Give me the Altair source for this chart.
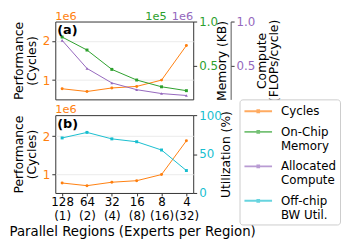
import altair as alt
import pandas as pd

# ---- data ----
regions = ["128", "64", "32", "16", "8", "4"]
experts = ["(1)", "(2)", "(4)", "(8)", "(16)", "(32)"]
cycles = [0.78, 0.71, 0.80, 0.84, 1.00, 1.88]          # x1e6 cycles
memory = [0.824, 0.676, 0.456, 0.335, 0.258, 0.214]    # x1e5 KB
compute = [0.786, 0.467, 0.302, 0.225, 0.181, 0.159]   # x1e6 FLOPs/cycle
util = [70.7, 77.8, 69.5, 65.8, 55.2, 28.8]            # %

series = ["Cycles", "On-Chip|Memory", "Allocated|Compute", "Off-chip|BW Util."]
colors = ["#ff7f0e", "#2ca02c", "#9467bd", "#17becf"]
offset_labels = ["1e6", "1e5", "1e6"]
panel_labels = ["(a)", "(b)"]

x_ticks = [f"{r}|{e}" for r, e in zip(regions, experts)]

W, H = 140, 79
FONT = "DejaVu Sans"


def frame(values, name):
    return pd.DataFrame({"x": x_ticks, "v": values, "s": name})


color_scale = alt.Scale(domain=series, range=colors)

legend = alt.Legend(
    title=None, orient="none", legendX=187, legendY=-16,
    labelExpr="split(datum.label, '|')", labelFontSize=12, labelFont=FONT,
    labelLimit=200, labelOffset=22,
    symbolType="M-1,0L3,0M0.88,-0.14L1.12,-0.14L1.12,0.14L0.88,0.14Z",
    symbolSize=196, symbolStrokeWidth=2, symbolOpacity=0.65,
    strokeColor="#cccccc", fillColor="white", cornerRadius=3, padding=4,
    rowPadding=7,
)


def xenc(show_axis):
    if show_axis:
        ax = alt.Axis(
            title="Parallel Regions (Experts per Region)", labelAngle=0,
            labelExpr="split(datum.label, '|')", labelFontSize=12,
            labelLineHeight=14, labelColor="black", labelPadding=1,
            tickSize=3, tickColor="#333", domain=False,
            titleFontSize=13.5, titleFontWeight="normal", titleX=-47,
            titleAlign="left", titleY=39, titleBaseline="middle",
        )
    else:
        ax = None
    return alt.X("x:O", sort=x_ticks, scale=alt.Scale(type="point", padding=0.275), axis=ax)


def line(values, name, shape, ydomain, axis, show_legend, show_x):
    return alt.Chart(frame(values, name)).mark_line(
        strokeWidth=1,
        point=alt.OverlayMarkDef(shape=shape, size=9, filled=True),
    ).encode(
        x=xenc(show_x),
        y=alt.Y("v:Q", scale=alt.Scale(domain=ydomain, nice=False, zero=False), axis=axis),
        color=alt.Color("s:N", scale=color_scale, legend=legend if show_legend else None),
    )


def perf_axis():
    return alt.Axis(
        title=["Performance", "(Cycles)"], orient="left", values=[1, 2], format="d",
        labelColor=colors[0], labelFontSize=12, grid=True, gridColor="#ebebeb",
        domain=False, tickSize=3.5, tickColor="#333", labelPadding=2,
        titleFontSize=12.5, titleFontWeight="normal", titlePadding=4,
        titleLineHeight=13,
    )


def right_axis(title, values, fmt, color, offset, domain, title_x):
    return alt.Axis(
        title=title, orient="right", values=values, format=fmt, offset=offset,
        labelColor=color, labelFontSize=12, grid=False, domain=domain,
        domainColor="#555", tickSize=3.5, tickColor="#333", labelPadding=2,
        titleFontSize=12.5, titleFontWeight="normal", titleAngle=-90,
        titleX=title_x, titleY=H / 2, titleAlign="center", titleBaseline="top",
        titleLineHeight=13,
    )


def note(text, x, y, color, align="left", bold=False, size=11.5, baseline="alphabetic"):
    return alt.Chart(pd.DataFrame({"t": [text]})).mark_text(
        align=align, baseline=baseline, fontSize=size, font=FONT, color=color,
        fontWeight="bold" if bold else "normal",
    ).encode(text="t:N", x=alt.value(x), y=alt.value(y))


top = alt.layer(
    line(cycles, series[0], "circle", [0.51, 2.49], perf_axis(), False, False),
    line(memory, series[1], "square", [0.115, 1.0],
         right_axis("Memory (KB)", [0.5, 1.0], ".1f", colors[1], 0, False, 23), False, False),
    line(compute, series[2], "triangle-up", [0.115, 1.0],
         right_axis(["Compute", "(FLOPs/cycle)"], [0.5, 1.0], ".1f", colors[2], 38, True, 25), False, False),
    note(offset_labels[0], 0, -2, colors[0]),
    note(offset_labels[1], W - 27, -2, colors[1], align="right"),
    note(offset_labels[2], W, -2, colors[2], align="right"),
    note(panel_labels[0], 2, 3, "black", bold=True, size=13, baseline="top"),
).resolve_scale(y="independent").properties(width=W, height=H)

bottom = alt.layer(
    line(cycles, series[0], "circle", [0.52, 2.55], perf_axis(), True, True),
    line(util, series[3], "square", [0, 100],
         right_axis("Utilization (%)", [0, 50, 100], "d", colors[3], 0, False, 27), True, True),
    note(offset_labels[0], 0, -2, colors[0]),
    note(panel_labels[1], 2, 3, "black", bold=True, size=13, baseline="top"),
).resolve_scale(y="independent").properties(width=W, height=H)

chart = alt.vconcat(top, bottom, spacing=16, bounds="flush").resolve_scale(
    color="independent"
).properties(padding=0).configure(font=FONT).configure_view(
    stroke="#333", strokeWidth=1
)

chart.save("out.html", embed_options={"renderer": "svg", "actions": False})
